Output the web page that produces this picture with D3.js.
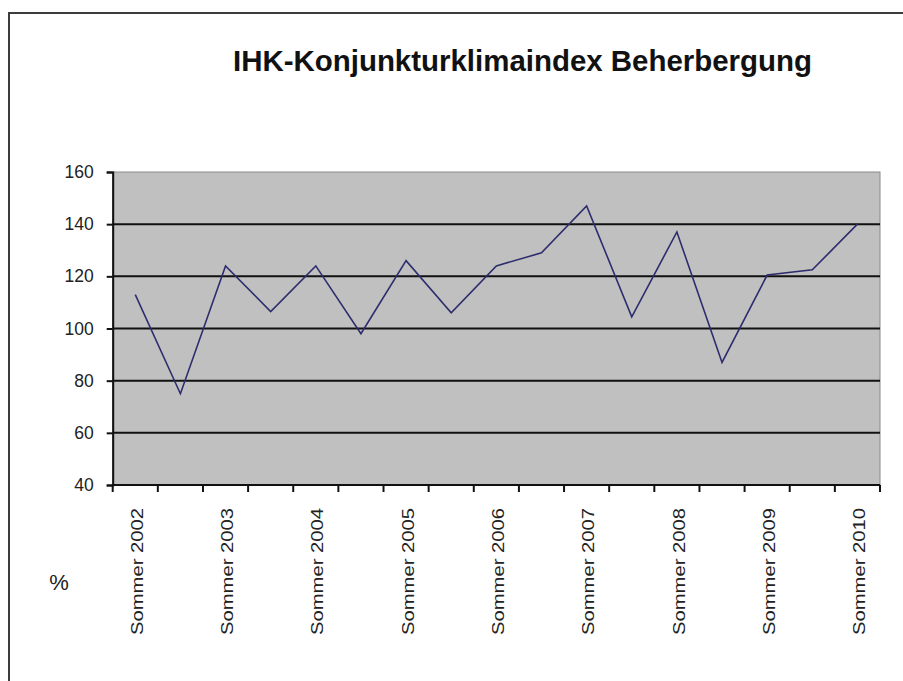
<!DOCTYPE html>
<html>
<head>
<meta charset="utf-8">
<script src="https://cdn.jsdelivr.net/npm/d3@7/dist/d3.min.js"></script>
<style>
    body { margin: 0; background: #ffffff; }
    svg { display: block; font-family: "Liberation Sans", Arial, sans-serif; }
</style>
</head>
<body>
<svg id="chart" width="903" height="681"></svg>
<script>
// Halbjahre Sommer / Winter 2002 - 2010
var seasons = [
    'Sommer 2002', 'Winter 2002/2003', 'Sommer 2003', 'Winter 2003/2004',
    'Sommer 2004', 'Winter 2004/2005', 'Sommer 2005', 'Winter 2005/2006',
    'Sommer 2006', 'Winter 2006/2007', 'Sommer 2007', 'Winter 2007/2008',
    'Sommer 2008', 'Winter 2008/2009', 'Sommer 2009', 'Winter 2009/2010',
    'Sommer 2010'
];
var indexValues = [113, 75, 124, 106.5, 124, 98, 126, 106, 124, 129, 147, 104.5, 137, 87, 120.5, 122.5, 140];
var yTicks = [40, 60, 80, 100, 120, 140, 160];
var chartTitle = 'IHK-Konjunkturklimaindex Beherbergung';
var unitLabel = '%';

(function() {
    var svg = d3.select('#chart');
    var margin = {left: 112.7, top: 172, right: 880, bottom: 485};

    // Rahmen um das Diagramm
    svg.append('rect')
        .attr('x', 9)
        .attr('y', 13)
        .attr('width', 920)
        .attr('height', 700)
        .attr('fill', '#ffffff')
        .attr('stroke', '#3c3c3c')
        .attr('stroke-width', 2);

    svg.append('text')
        .attr('x', 233)
        .attr('y', 71)
        .attr('font-size', '30px')
        .attr('font-weight', 'bold')
        .attr('fill', '#111111')
        .attr('textLength', 579)
        .attr('lengthAdjust', 'spacingAndGlyphs')
        .text(chartTitle);

    var x = d3.scaleBand()
        .domain(seasons)
        .range([margin.left, margin.right]);
    var y = d3.scaleLinear()
        .domain([40, 160])
        .range([margin.bottom, margin.top]);

    // Zeichenfläche
    svg.append('rect')
        .attr('x', margin.left)
        .attr('y', margin.top)
        .attr('width', margin.right - margin.left)
        .attr('height', margin.bottom - margin.top)
        .attr('fill', '#c0c0c0')
        .attr('stroke', '#8a8a8a')
        .attr('stroke-width', 1);

    svg.append('g')
        .selectAll('line')
        .data(yTicks.filter(function(d) { return d > 40 && d < 160; }))
        .enter().append('line')
        .attr('x1', margin.left)
        .attr('x2', margin.right)
        .attr('y1', function(d) { return y(d); })
        .attr('y2', function(d) { return y(d); })
        .attr('stroke', '#111111')
        .attr('stroke-width', 2);

    var yAxis = svg.append('g')
        .attr('transform', 'translate(' + margin.left + ',0)')
        .call(d3.axisLeft(y).tickValues(yTicks).tickSize(6).tickPadding(13));
    yAxis.select('.domain').attr('stroke', '#111111').attr('stroke-width', 2);
    yAxis.selectAll('.tick line').attr('stroke', '#111111').attr('stroke-width', 2);
    yAxis.selectAll('.tick text')
        .attr('font-size', '17.5px')
        .attr('font-family', '"Liberation Sans", Arial, sans-serif')
        .attr('fill', '#222222');

    // Kategorienachse: Striche an den Grenzen, Beschriftung nur Sommer
    var bounds = seasons.map(function(d) { return x(d); }).concat([margin.right]);
    var xAxis = svg.append('g');
    xAxis.append('line')
        .attr('x1', margin.left - 1)
        .attr('x2', margin.right)
        .attr('y1', margin.bottom)
        .attr('y2', margin.bottom)
        .attr('stroke', '#111111')
        .attr('stroke-width', 2);
    xAxis.selectAll('.xtick')
        .data(bounds)
        .enter().append('line')
        .attr('class', 'xtick')
        .attr('x1', function(d) { return d; })
        .attr('x2', function(d) { return d; })
        .attr('y1', margin.bottom)
        .attr('y2', margin.bottom + 7)
        .attr('stroke', '#111111')
        .attr('stroke-width', 2);
    xAxis.selectAll('.xlabel')
        .data(seasons.filter(function(d, i) { return i % 2 == 0; }))
        .enter().append('text')
        .attr('class', 'xlabel')
        .attr('transform', function(d) {
            return 'translate(' + (x(d) + x.bandwidth() / 2 + 1.5) + ',' + (margin.bottom + 23) + ') rotate(-90)';
        })
        .attr('text-anchor', 'end')
        .attr('dy', '0.36em')
        .attr('font-size', '17px')
        .attr('fill', '#222222')
        .attr('textLength', 127)
        .attr('lengthAdjust', 'spacingAndGlyphs')
        .text(function(d) { return d; });

    svg.append('text')
        .attr('x', 59)
        .attr('y', 590)
        .attr('text-anchor', 'middle')
        .attr('font-size', '22px')
        .attr('fill', '#222222')
        .text(unitLabel);

    var line = d3.line()
        .x(function(d, i) { return x(seasons[i]) + x.bandwidth() / 2; })
        .y(function(d) { return y(d); });

    svg.append('path')
        .datum(indexValues)
        .attr('d', line)
        .attr('fill', 'none')
        .attr('stroke', '#2d2d6e')
        .attr('stroke-width', 1.6);
})();
</script>
</body>
</html>
